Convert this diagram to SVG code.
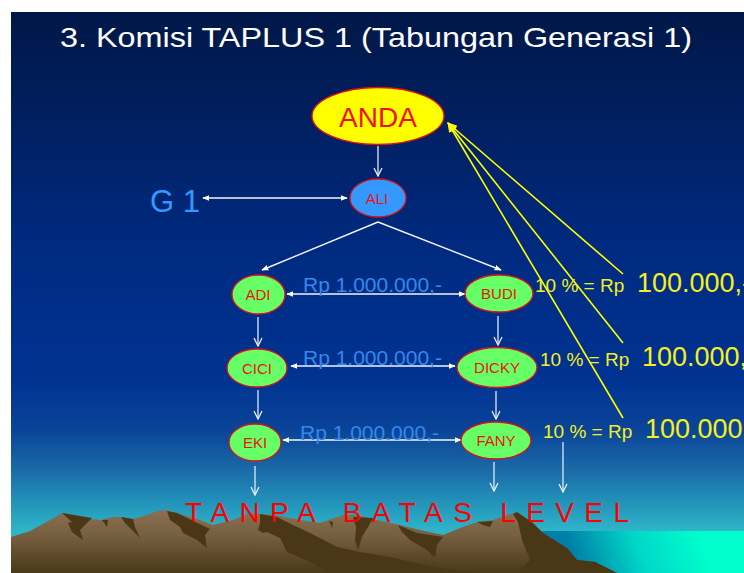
<svg xmlns="http://www.w3.org/2000/svg" width="744" height="573" viewBox="0 0 744 573">
  <defs>
    <linearGradient id="sky" gradientUnits="userSpaceOnUse" x1="0" y1="12" x2="0" y2="573">
      <stop offset="0" stop-color="#001848"/>
      <stop offset="0.16" stop-color="#001e5c"/>
      <stop offset="0.42" stop-color="#002a80"/>
      <stop offset="0.655" stop-color="#003392"/>
      <stop offset="0.745" stop-color="#0a4498"/>
      <stop offset="0.816" stop-color="#1a6aa8"/>
      <stop offset="0.87" stop-color="#2290b8"/>
      <stop offset="0.923" stop-color="#2eb4c8"/>
      <stop offset="1" stop-color="#30c0d0"/>
    </linearGradient>
    <linearGradient id="earth" gradientUnits="userSpaceOnUse" x1="0" y1="510" x2="0" y2="573">
      <stop offset="0" stop-color="#8a7052"/>
      <stop offset="0.4" stop-color="#76603f"/>
      <stop offset="1" stop-color="#4a3818"/>
    </linearGradient>
    <linearGradient id="sea" gradientUnits="userSpaceOnUse" x1="580" y1="573" x2="700" y2="531">
      <stop offset="0" stop-color="#0080a8"/>
      <stop offset="0.5" stop-color="#00d8c8"/>
      <stop offset="1" stop-color="#00ffcc"/>
    </linearGradient>
    <marker id="tip" viewBox="0 0 10 10" refX="9" refY="5" markerWidth="7" markerHeight="7" orient="auto-start-reverse" markerUnits="userSpaceOnUse">
      <path d="M0,1 L10,5 L0,9 Z" fill="#ffffff"/>
    </marker>
    <marker id="vee" viewBox="0 0 10 10" refX="9" refY="5" markerWidth="10" markerHeight="10" orient="auto" markerUnits="userSpaceOnUse">
      <path d="M1,1 L9,5 L1,9" fill="none" stroke="#e8eef8" stroke-width="1.3"/>
    </marker>
    <marker id="ytip" viewBox="0 0 10 10" refX="9" refY="5" markerWidth="10" markerHeight="10" orient="auto-start-reverse" markerUnits="userSpaceOnUse">
      <path d="M0,1 L10,5 L0,9 Z" fill="#ffff00"/>
    </marker>
  </defs>
  <style>
    .node { stroke: #e0101a; stroke-width: 1.3; }
    .green { fill: #66ff66; }
    .lbl { font-family: "Liberation Sans", Arial, sans-serif; fill: #ee1111; text-anchor: middle; }
    .link { stroke: #f0f4fa; stroke-width: 1.4; fill: none; }
    .down { stroke: #e0e8f4; stroke-width: 1.3; fill: none; marker-end: url(#vee); }
    .both { stroke: #f4f6fa; stroke-width: 1.6; fill: none; marker-start: url(#tip); marker-end: url(#tip); }
    .gold { stroke: #ffff00; stroke-width: 1.6; fill: none; }
    .rp { font-family: "Liberation Sans", Arial, sans-serif; fill: #3388ee; font-size: 21px; }
    .pct { font-family: "Liberation Sans", Arial, sans-serif; fill: #f4f020; }
    .dark { fill: #4a3716; }
  </style>

  <!-- backdrop -->
  <rect x="0" y="0" width="744" height="573" fill="#ffffff"/>
  <rect x="11" y="12" width="733" height="561" fill="url(#sky)"/>

  <!-- sea on the right -->
  <rect x="515" y="531" width="229" height="42" fill="url(#sea)"/>

  <!-- mountain range -->
  <g id="mountains">
    <path fill="url(#earth)" d="M11,537 L30,531 L50,520 L62,513 L75,515 L90,519 L100,520 L113,517 L120,517 L133,519 L147,515 L157,511 L167,510 L177,513 L200,520 L213,525 L233,520 L250,513 L260,514 L275,515 L300,520 L320,523 L343,515 L357,515 L377,520 L400,525 L420,530 L443,535 L460,528 L477,522 L493,520 L507,515 L517,512 L533,523 L543,533 L567,548 L577,560 L595,562 L617,573 L11,573 Z"/>
    <path class="dark" d="M62,513 L92,518 L80,530 L83,540 L72,532 L68,523 L72,522 Z"/>
    <path class="dark" d="M102,520 L108,520 L107,527 Z"/>
    <path class="dark" d="M121,517 L133,519 L135,527 L140,538 L132,530 L125,523 Z"/>
    <path class="dark" d="M167,511 L177,513 L210,529 L205,535 L207,548 L197,540 L183,533 L180,527 L170,520 Z"/>
    <path class="dark" d="M260,514 L277,517 L293,525 L310,533 L337,547 L360,552 L390,557 L437,568 L480,573 L330,573 L310,562 L287,552 L280,538 L267,532 L263,533 L258,530 L260,523 Z"/>
    <path class="dark" d="M329,521 L333,522 L332,528 Z"/>
    <path class="dark" d="M353,517 L373,518 L368,527 L362,537 L358,550 L355,540 L356,527 Z"/>
    <path class="dark" d="M398,525 L417,533 L443,537 L437,545 L435,558 L427,550 L410,540 L402,532 Z"/>
    <path class="dark" d="M477,522 L493,521 L490,527 L483,525 Z"/>
    <path class="dark" d="M513,514 L517,512 L533,523 L543,533 L567,548 L577,560 L595,562 L617,573 L520,573 L523,567 L530,560 L522,540 L518,522 Z"/>
  </g>

  <!-- heading -->
  <text x="376" y="47" font-family="Liberation Sans, Arial, sans-serif" font-size="28" fill="#ffffff" text-anchor="middle" textLength="632" lengthAdjust="spacingAndGlyphs">3. Komisi TAPLUS 1 (Tabungan Generasi 1)</text>

  <!-- connectors -->
  <g id="connectors">
    <line class="down" x1="378" y1="146" x2="378" y2="176"/>
    <line class="both" x1="203" y1="198" x2="347" y2="198"/>
    <line class="link" x1="378" y1="222" x2="262" y2="270" marker-end="url(#tip)"/>
    <line class="link" x1="378" y1="222" x2="501" y2="270" marker-end="url(#tip)"/>
    <line class="both" x1="287" y1="294" x2="465" y2="294"/>
    <line class="down" x1="258" y1="317" x2="258" y2="346"/>
    <line class="down" x1="498" y1="316" x2="498" y2="345"/>
    <line class="both" x1="291" y1="366" x2="455" y2="366"/>
    <line class="down" x1="258" y1="390" x2="258" y2="419"/>
    <line class="down" x1="496" y1="391" x2="496" y2="419"/>
    <line class="both" x1="283" y1="440" x2="461" y2="440"/>
    <line class="down" x1="255" y1="466" x2="255" y2="495"/>
    <line class="down" x1="494" y1="462" x2="494" y2="491"/>
    <line class="down" x1="563" y1="442" x2="563" y2="492"/>
    <!-- commission lines back to ANDA -->
    <line class="gold" x1="623" y1="274" x2="448" y2="123" marker-end="url(#ytip)"/>
    <line class="gold" x1="623" y1="343" x2="448" y2="123" marker-end="url(#ytip)"/>
    <line class="gold" x1="623" y1="418" x2="448" y2="123" marker-end="url(#ytip)"/>
  </g>

  <!-- nodes -->
  <g id="anda">
    <ellipse cx="378" cy="116" rx="66" ry="28.5" fill="#ffff00" class="node"/>
    <text class="lbl" x="378" y="127" font-size="28">ANDA</text>
  </g>
  <g id="ali">
    <ellipse cx="378" cy="198" rx="28" ry="19" fill="#3399ff" class="node"/>
    <text class="lbl" x="377" y="204" font-size="15">ALI</text>
  </g>
  <g id="g1">
    <text x="150" y="212" font-family="Liberation Sans, Arial, sans-serif" font-size="31" fill="#3399ff">G 1</text>
  </g>
  <g id="adi">
    <ellipse cx="258.5" cy="294.5" rx="26.5" ry="19.5" class="node green"/>
    <text class="lbl" x="258" y="300" font-size="15">ADI</text>
  </g>
  <g id="budi">
    <ellipse cx="499" cy="293.5" rx="34" ry="18.5" class="node green"/>
    <text class="lbl" x="499" y="299" font-size="15">BUDI</text>
  </g>
  <g id="cici">
    <ellipse cx="257" cy="368" rx="30" ry="19" class="node green"/>
    <text class="lbl" x="257" y="374" font-size="15">CICI</text>
  </g>
  <g id="dicky">
    <ellipse cx="497" cy="367.5" rx="40" ry="20" class="node green"/>
    <text class="lbl" x="497" y="373" font-size="15">DICKY</text>
  </g>
  <g id="eki">
    <ellipse cx="255" cy="442.5" rx="26" ry="18.5" class="node green"/>
    <text class="lbl" x="255" y="448" font-size="15">EKI</text>
  </g>
  <g id="fany">
    <ellipse cx="496" cy="440.5" rx="35" ry="18.5" class="node green"/>
    <text class="lbl" x="496" y="446" font-size="15">FANY</text>
  </g>

  <!-- amounts -->
  <text class="rp" x="303" y="292">Rp 1.000.000,-</text>
  <text class="rp" x="303" y="365">Rp 1.000.000,-</text>
  <text class="rp" x="300" y="440">Rp 1.000.000,-</text>

  <!-- commission labels -->
  <text class="pct" x="535" y="292" font-size="19">10 % = Rp <tspan x="637" font-size="27">100.000,-</tspan></text>
  <text class="pct" x="540" y="366" font-size="19">10 % = Rp <tspan x="642" font-size="27">100.000,-</tspan></text>
  <text class="pct" x="543" y="438" font-size="19">10 % = Rp <tspan x="645" font-size="27">100.000,-</tspan></text>

  <!-- footer caption -->
  <text x="185" y="522" font-family="Liberation Sans, Arial, sans-serif" font-size="28" fill="#ff0000" textLength="444" lengthAdjust="spacing">TANPA BATAS LEVEL</text>
</svg>
